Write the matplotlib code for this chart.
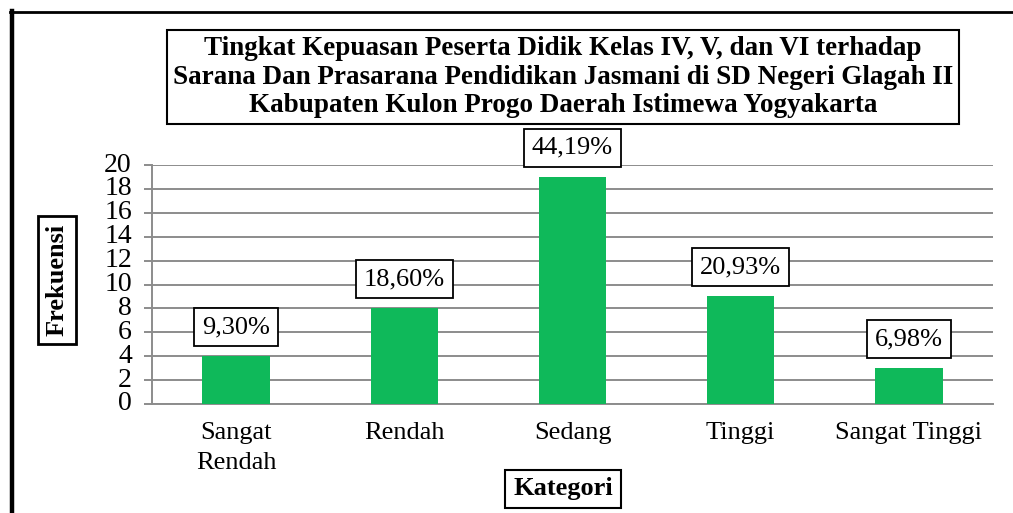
import matplotlib
matplotlib.use("Agg")
import matplotlib.pyplot as plt
from matplotlib.lines import Line2D

kategori = ["Sangat\nRendah", "Rendah", "Sedang", "Tinggi", "Sangat Tinggi"]
frekuensi = [4, 8, 19, 9, 3]
persen = ["9,30%", "18,60%", "44,19%", "20,93%", "6,98%"]
yticks = list(range(0, 21, 2))

judul = ("Tingkat Kepuasan Peserta Didik Kelas IV, V, dan VI terhadap\n"
         "Sarana Dan Prasarana Pendidikan Jasmani di SD Negeri Glagah II\n"
         "Kabupaten Kulon Progo Daerah Istimewa Yogyakarta")

plt.rcParams['font.family'] = ['Liberation Serif', 'DejaVu Serif']

W, H = 1013, 513
fig = plt.figure(figsize=(W / 100, H / 100), dpi=100)
fig.patch.set_facecolor("white")

# bingkai luar (kiri tebal, atas)
fig.add_artist(Line2D([12 / W, 12 / W], [0, 1 - 11 / H], color="black", lw=3.2))
fig.add_artist(Line2D([10 / W, 1], [1 - 12 / H, 1 - 12 / H], color="black", lw=2))

ax = fig.add_axes([152 / W, 1 - 404 / H, (993 - 152) / W, (404 - 165) / H])
x = list(range(len(kategori)))
ax.bar(x, frekuensi, width=0.4, color="#0fb95a", zorder=3)

ax.set_xlim(-0.5, len(kategori) - 0.5)
ax.set_ylim(0, 20)
ax.set_yticks(yticks)
ax.set_xticks(x)
ax.set_xticklabels(kategori, fontsize=19, linespacing=1.45)
ax.tick_params(axis="x", length=0, pad=13)
ax.tick_params(axis="y", length=5.5, width=1.4, color="#8c8c8c", labelsize=20, pad=9)
for lbl in ax.get_yticklabels():
    lbl.set_verticalalignment("center")
ax.grid(axis="y", color="#8c8c8c", lw=1.4, zorder=0)
for s in ["top", "right"]:
    ax.spines[s].set_visible(False)
ax.spines["left"].set_color("#8c8c8c")
ax.spines["left"].set_linewidth(1.4)
ax.spines["bottom"].set_color("#8c8c8c")
ax.spines["bottom"].set_linewidth(1.4)

for xi, f, p in zip(x, frekuensi, persen):
    ax.annotate(p, (xi, f), xytext=(0, 21), textcoords="offset points",
                ha="center", va="center", fontsize=19, zorder=5,
                bbox=dict(boxstyle="square,pad=0.3", fc="white", ec="black", lw=1.3))

fig.text(563 / W, 1 - 77 / H, judul, ha="center", va="center", fontsize=19.5,
         fontweight="bold", linespacing=1.2,
         bbox=dict(boxstyle="square,pad=0.2", fc="white", ec="black", lw=1.5))

fig.text(57 / W, 1 - 280 / H, "Frekuensi", rotation=90, ha="center", va="center",
         fontsize=19, fontweight="bold",
         bbox=dict(boxstyle="square,pad=0.3", fc="white", ec="black", lw=2))

fig.text(563 / W, 1 - 489 / H, "Kategori", ha="center", va="center",
         fontsize=19, fontweight="bold",
         bbox=dict(boxstyle="square,pad=0.3", fc="white", ec="black", lw=1.5))

fig.savefig("out.png", dpi=100)
